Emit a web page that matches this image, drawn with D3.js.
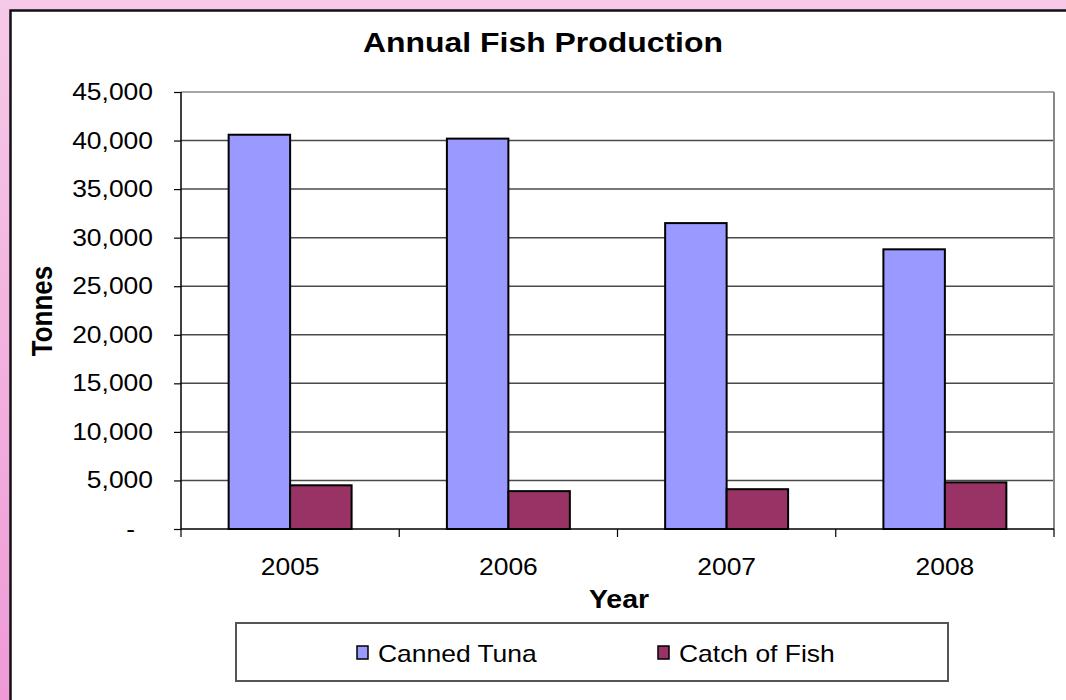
<!DOCTYPE html>
<html><head><meta charset="utf-8">
<script src="https://cdn.jsdelivr.net/npm/d3@7"></script>
<style>html,body{margin:0;padding:0;overflow:hidden;background:#fff}svg{display:block;font-family:"Liberation Sans",Arial,sans-serif}</style>
</head><body>
<script>
const years = ["2005", "2006", "2007", "2008"];
const seriesNames = ["Canned Tuna", "Catch of Fish"];
const cannedTuna = [40600, 40200, 31500, 28800];
const catchOfFish = [4500, 3900, 4100, 4800];
const yTicks = [0, 5000, 10000, 15000, 20000, 25000, 30000, 35000, 40000, 45000];
const colors = ["#9999FF", "#993366"];

const W = 1066, H = 700;
const SX = 1.15;
const svg = d3.select("body").append("svg").attr("width", W).attr("height", H);
const defs = svg.append("defs");
const grad = defs.append("linearGradient").attr("id", "bg").attr("x1", 0).attr("y1", 0).attr("x2", 0).attr("y2", 1);
grad.append("stop").attr("offset", "0%").attr("stop-color", "#F6C9E8");
grad.append("stop").attr("offset", "100%").attr("stop-color", "#EF9AD6");
svg.append("rect").attr("width", W).attr("height", H).attr("fill", "url(#bg)");
svg.append("rect").attr("x", 10.5).attr("y", 10.5).attr("width", W + 20).attr("height", H + 20)
  .attr("fill", "#fff").attr("stroke", "#111").attr("stroke-width", 2.5);

function label(sel, x, y, txt, size, opts = {}) {
  return sel.append("text")
    .attr("transform", `translate(${x},${y}) scale(${opts.sx || SX},1)`)
    .attr("text-anchor", opts.anchor || "middle")
    .attr("font-size", size)
    .attr("font-weight", opts.bold ? "bold" : "normal")
    .attr("fill", "#000")
    .text(txt);
}

const L = 181, R = 1054, T = 92, B = 529;
const y = d3.scaleLinear().domain([0, 45000]).range([B, T]);
const x0 = d3.scaleBand().domain(years).range([L, R]).padding(0);
const x1 = d3.scaleBand().domain(seriesNames).range([0, x0.bandwidth()]).paddingInner(0).paddingOuter(0.775);

// gridlines
svg.append("g").selectAll("line").data(yTicks.filter(d => d > 0)).join("line")
  .attr("x1", L).attr("x2", R).attr("y1", d => y(d)).attr("y2", d => y(d))
  .attr("stroke", d => d === 45000 ? "#888" : "#4a4a4a").attr("stroke-width", 1.5);
svg.append("line").attr("x1", R).attr("x2", R).attr("y1", T).attr("y2", B).attr("stroke", "#888").attr("stroke-width", 2);

const data = years.map((yr, i) => ({ year: yr, vals: [cannedTuna[i], catchOfFish[i]] }));
const g = svg.append("g").selectAll("g").data(data).join("g").attr("transform", d => `translate(${x0(d.year)},0)`);
g.selectAll("rect").data(d => d.vals.map((v, j) => ({ name: seriesNames[j], v, j }))).join("rect")
  .attr("x", d => x1(d.name)).attr("width", x1.bandwidth())
  .attr("y", d => y(d.v)).attr("height", d => y(0) - y(d.v))
  .attr("fill", d => colors[d.j]).attr("stroke", "#000").attr("stroke-width", 2);

// y axis
const fmt = d3.format(",");
const yAxis = d3.axisLeft(y).tickValues(yTicks).tickSize(7).tickFormat("");
const ya = svg.append("g").attr("transform", `translate(${L},0)`).call(yAxis);
ya.select(".domain").attr("stroke", "#000").attr("stroke-width", 1.5).attr("d", `M-0,${T}V${B}`);
ya.selectAll(".tick line").attr("stroke", "#000").attr("stroke-width", 1.2);
const yl = svg.append("g");
yTicks.forEach(d => label(yl, d === 0 ? 135 : 153, y(d) + 8, d === 0 ? "-" : fmt(d), 23, { anchor: "end" }));

// x axis
const xa = svg.append("g").attr("transform", `translate(0,${B})`);
xa.append("line").attr("x1", L).attr("x2", R).attr("y1", 0).attr("y2", 0).attr("stroke", "#000").attr("stroke-width", 1.5);
const bounds = [L].concat(years.map(yr => x0(yr) + x0.bandwidth()));
xa.selectAll("line.tk").data(bounds).join("line").attr("class", "tk")
  .attr("x1", d => d).attr("x2", d => d).attr("y1", 0).attr("y2", 8).attr("stroke", "#000").attr("stroke-width", 1.2);
const xl = svg.append("g");
years.forEach(d => label(xl, x0(d) + x0.bandwidth() / 2, 575, d, 23));

// titles
label(svg, 543, 52, "Annual Fish Production", 28, { bold: true, sx: 1.14 });
label(svg, 619, 608, "Year", 25, { bold: true, sx: 1.14 });
svg.append("text").attr("transform", "translate(52,311) rotate(-90) scale(1,1.12)").attr("text-anchor", "middle")
  .attr("font-size", 26).attr("font-weight", "bold").attr("fill", "#000").text("Tonnes");

// legend
svg.append("rect").attr("x", 236).attr("y", 623).attr("width", 712).attr("height", 58).attr("fill", "#fff").attr("stroke", "#555").attr("stroke-width", 2);
const legX = [357, 658];
const lg = svg.append("g").selectAll("g").data(seriesNames).join("g").attr("transform", (d, i) => `translate(${legX[i]},646)`);
lg.append("rect").attr("width", 11).attr("height", 13).attr("fill", (d, i) => colors[i]).attr("stroke", "#000").attr("stroke-width", 1.5);
lg.each(function (d) { label(d3.select(this), 21, 15.5, d, 23, { anchor: "start" }); });
</script>
</body></html>
